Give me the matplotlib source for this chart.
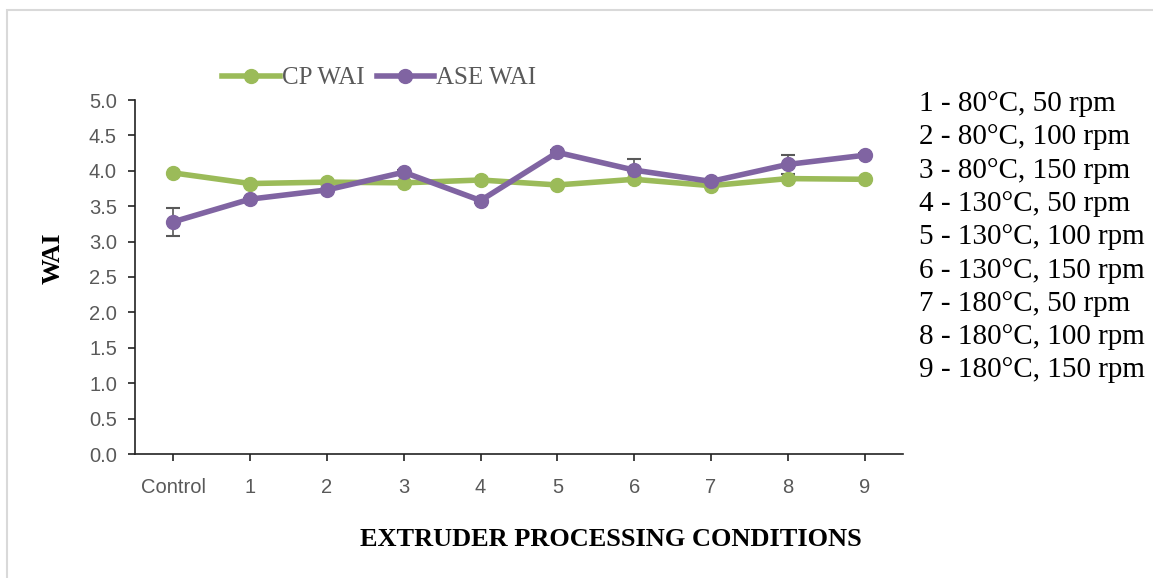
import numpy as np
import matplotlib.pyplot as plt
import matplotlib.ticker as mticker
from matplotlib.patches import Rectangle

plt.rcParams.update({
    "figure.facecolor": "white",
    "axes.facecolor": "white",
    "font.family": ["Liberation Sans", "DejaVu Sans"],
})

SERIF = ["Liberation Serif", "DejaVu Serif"]
GREEN = "#9BBB59"
PURPLE = "#8064A2"

categories = ["Control", "1", "2", "3", "4", "5", "6", "7", "8", "9"]
cp_wai = [3.97, 3.82, 3.84, 3.83, 3.87, 3.80, 3.88, 3.79, 3.89, 3.88]
ase_wai = [3.28, 3.60, 3.73, 3.98, 3.58, 4.26, 4.01, 3.85, 4.09, 4.22]
ase_err = [0.20, 0.02, 0.02, 0.03, 0.03, 0.03, 0.15, 0.03, 0.13, 0.03]
conditions = [
    "1 - 80°C, 50 rpm",
    "2 - 80°C, 100 rpm",
    "3 - 80°C, 150 rpm",
    "4 - 130°C, 50 rpm",
    "5 - 130°C, 100 rpm",
    "6 - 130°C, 150 rpm",
    "7 - 180°C, 50 rpm",
    "8 - 180°C, 100 rpm",
    "9 - 180°C, 150 rpm",
]

W, H = 1153, 578
fig = plt.figure(figsize=(W / 100, H / 100), dpi=100)
ax = fig.add_axes([135 / W, 1 - 454 / H, 768 / W, 354 / H])

x = np.arange(len(categories))
ax.plot(x, cp_wai, color=GREEN, lw=4, marker="o", ms=10, label="CP WAI", zorder=3)
ax.errorbar(x, ase_wai, yerr=ase_err, fmt="none", ecolor="#595959", elinewidth=1.2,
            capsize=5, capthick=1.5, zorder=2)
ax.plot(x, ase_wai, color=PURPLE, lw=4, marker="o", ms=10, label="ASE WAI", zorder=4)

ax.set_xlim(-0.5, len(categories) - 0.5)
ax.set_ylim(0, 5)
ax.set_xticks(x)
ax.set_xticklabels(categories)
ax.tick_params(axis="x", length=5, width=1.2, pad=12, labelsize=14.5, labelcolor="#595959",
               color="#222222")
ax.set_yticks(np.arange(0, 5.01, 0.5))
ax.yaxis.set_major_formatter(mticker.FormatStrFormatter("%.1f"))
ax.tick_params(axis="y", length=5, width=1.2, pad=8, labelsize=14.5, labelcolor="#595959",
               color="#222222")
for s in ["top", "right"]:
    ax.spines[s].set_visible(False)
for s in ["left", "bottom"]:
    ax.spines[s].set_color("#222222")
    ax.spines[s].set_linewidth(1.2)

ax.set_ylabel("WAI", fontfamily=SERIF, fontweight="bold", fontsize=18.5)
ax.yaxis.set_label_coords(-0.091, 0.554)
fig.text(611 / W, 1 - 540 / H, "EXTRUDER PROCESSING CONDITIONS", fontfamily=SERIF,
         fontweight="bold", fontsize=19, ha="center", va="center")

handles, labels = ax.get_legend_handles_labels()
leg = fig.legend(handles, labels, loc="center left", bbox_to_anchor=(222 / W, 1 - 78 / H),
                 ncol=2, frameon=False, prop={"family": SERIF, "size": 18},
                 handlelength=2.3, handletextpad=0.08, columnspacing=0.5,
                 borderpad=0, borderaxespad=0)
for t in leg.get_texts():
    t.set_color("#595959")

for i, c in enumerate(conditions):
    fig.text(919 / W, 1 - (104 + i * 33.3) / H, c, fontfamily=SERIF, fontsize=21,
             color="black", va="center", ha="left")

# outer chart-area border (only top and left edges fall inside the image)
top = 1 - 9.5 / H
fig.patches.append(Rectangle((7 / W, -0.1), 1.2, top + 0.1, transform=fig.transFigure,
                             fill=False, edgecolor="#d9d9d9", lw=1.5))

fig.savefig("out.png", dpi=100)
